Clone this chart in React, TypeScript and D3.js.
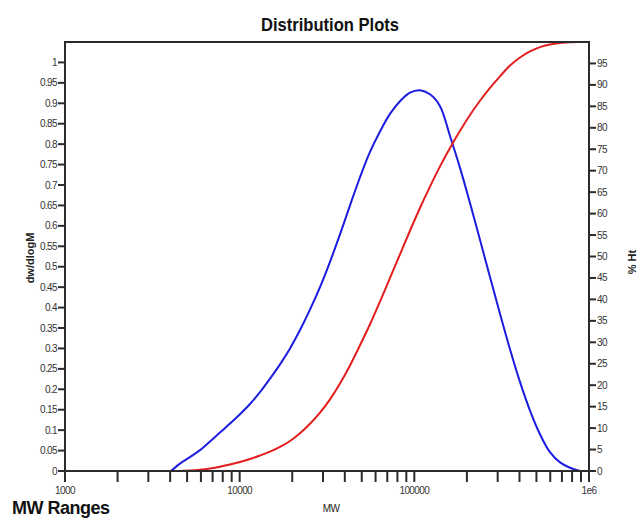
import React, { useEffect, useRef } from "react";
import * as d3 from "d3";

// Molecular weight grid (g/mol), shared by both traces
const mw = [4045, 4554, 5195, 5929, 6765, 7716, 8805, 10040, 11460, 13070, 14920, 17020, 19420, 22150, 25270, 28840, 32900, 37530, 42820, 48860, 55740, 63590, 72550, 82770, 94430, 107700, 122900, 140300, 160000, 182600, 208300, 237600, 271100, 309300, 352900, 402600, 459300, 524100, 597900, 682200, 778300, 888000, 1000000];

// Differential distribution dw/dlogM (null where the trace is not drawn)
const dwdlogM: (number | null)[] = [0, 0.018, 0.034, 0.051, 0.072, 0.094, 0.116, 0.139, 0.164, 0.193, 0.226, 0.261, 0.3, 0.345, 0.395, 0.45, 0.512, 0.579, 0.65, 0.719, 0.781, 0.831, 0.874, 0.905, 0.926, 0.932, 0.922, 0.893, 0.82, 0.742, 0.656, 0.566, 0.475, 0.385, 0.298, 0.218, 0.148, 0.09, 0.046, 0.021, 0.008, 0, null];

// Cumulative distribution, % height
const pctHt = [0, 0, 0.1, 0.3, 0.6, 1.0, 1.5, 2.1, 2.8, 3.6, 4.5, 5.6, 7.0, 8.8, 11.0, 13.6, 16.7, 20.4, 24.6, 29.3, 34.2, 39.5, 45.0, 50.5, 56.0, 61.3, 66.3, 71.0, 75.3, 79.3, 83.0, 86.3, 89.3, 92.0, 94.5, 96.4, 97.8, 98.8, 99.4, 99.75, 99.95, 100, 100];

const leftTicks = d3.range(0, 21).map((i) => i * 0.05);
const rightTicks = d3.range(0, 20).map((i) => i * 5);
const xMajor = [1000, 10000, 100000, 1000000];
const xMajorLabels = ["1000", "10000", "100000", "1e6"];

const W = 644;
const H = 519;
const M = { left: 65, right: 589, top: 42, bottom: 471 };

export default function App() {
  const ref = useRef<SVGSVGElement>(null);

  useEffect(() => {
    const svg = d3.select(ref.current);
    svg.selectAll("*").remove();

    const x = d3.scaleLog().domain([1000, 1000000]).range([M.left, M.right]);
    const yL = d3.scaleLinear().domain([0, 1.05]).range([M.bottom, M.top]);
    const yR = d3.scaleLinear().domain([0, 100]).range([M.bottom, M.top]);

    const font = "'Liberation Sans', Arial, sans-serif";
    const axisColor = "#2b2b2b";
    const textColor = "#333";

    // Title
    svg.append("text")
      .attr("x", 330).attr("y", 31)
      .attr("text-anchor", "middle")
      .attr("font-family", font).attr("font-weight", "bold")
      .attr("font-size", 19).attr("fill", "#111")
      .attr("textLength", 138).attr("lengthAdjust", "spacingAndGlyphs")
      .text("Distribution Plots");

    // Curves
    type P = [number, number | null];
    const blueData: P[] = mw.map((m, i) => [m, dwdlogM[i]]);
    const redData: P[] = mw.map((m, i) => [m, pctHt[i]]);

    svg.append("path")
      .attr("d", d3.line<P>()
        .defined((d) => d[1] !== null)
        .x((d) => x(d[0])).y((d) => yL(d[1] as number))
        .curve(d3.curveCatmullRom.alpha(0.5))(blueData))
      .attr("fill", "none").attr("stroke", "#1c1ce0").attr("stroke-width", 2);

    svg.append("path")
      .attr("d", d3.line<P>()
        .x((d) => x(d[0])).y((d) => yR(d[1] as number))
        .curve(d3.curveMonotoneX)(redData))
      .attr("fill", "none").attr("stroke", "#e41e1e").attr("stroke-width", 2);

    // Frame: top, left, right, bottom
    const g = svg.append("g").attr("stroke", axisColor).attr("stroke-width", 2);
    g.append("line").attr("x1", M.left).attr("x2", M.right).attr("y1", M.top).attr("y2", M.top);
    g.append("line").attr("x1", M.left).attr("x2", M.left).attr("y1", M.top - 1).attr("y2", M.bottom + 11);
    g.append("line").attr("x1", M.right).attr("x2", M.right).attr("y1", M.top - 1).attr("y2", M.bottom + 11);
    g.append("line").attr("x1", M.left).attr("x2", M.right).attr("y1", M.bottom).attr("y2", M.bottom);

    // X ticks at 1..9 of each decade
    const xTicks: number[] = [];
    for (let e = 3; e < 6; e++) for (let k = 1; k <= 9; k++) xTicks.push(k * Math.pow(10, e));
    xTicks.push(1000000);
    g.selectAll(".xt").data(xTicks).enter().append("line")
      .attr("x1", (d) => x(d)).attr("x2", (d) => x(d))
      .attr("y1", M.bottom).attr("y2", M.bottom + 11);

    svg.selectAll(".xl").data(xMajor).enter().append("text")
      .attr("x", (d) => x(d)).attr("y", 494)
      .attr("text-anchor", "middle")
      .attr("font-family", font).attr("font-size", 10).attr("fill", textColor)
      .attr("letter-spacing", -0.6)
      .text((_, i) => xMajorLabels[i]);

    // Left ticks
    g.selectAll(".lt").data(leftTicks).enter().append("line")
      .attr("x1", M.left - 7).attr("x2", M.left)
      .attr("y1", (d) => yL(d)).attr("y2", (d) => yL(d));
    svg.selectAll(".ll").data(leftTicks).enter().append("text")
      .attr("x", M.left - 8).attr("y", (d) => yL(d))
      .attr("dy", "0.35em").attr("text-anchor", "end")
      .attr("font-family", font).attr("font-size", 10).attr("fill", textColor)
      .attr("letter-spacing", -0.6)
      .text((d) => String(+d.toFixed(2)));

    // Right ticks
    g.selectAll(".rt").data(rightTicks).enter().append("line")
      .attr("x1", M.right).attr("x2", M.right + 7)
      .attr("y1", (d) => yR(d)).attr("y2", (d) => yR(d));
    svg.selectAll(".rl").data(rightTicks).enter().append("text")
      .attr("x", M.right + 8).attr("y", (d) => yR(d))
      .attr("dy", "0.35em").attr("text-anchor", "start")
      .attr("font-family", font).attr("font-size", 10).attr("fill", textColor)
      .attr("letter-spacing", -0.6)
      .text((d) => String(d));

    // Axis titles
    svg.append("text")
      .attr("transform", "translate(34,258) rotate(-90)")
      .attr("text-anchor", "middle")
      .attr("font-family", font).attr("font-weight", "bold").attr("font-size", 11).attr("fill", "#222")
      .text("dw/dlogM");
    svg.append("text")
      .attr("transform", "translate(636,262) rotate(-90)")
      .attr("text-anchor", "middle")
      .attr("font-family", font).attr("font-weight", "bold").attr("font-size", 11).attr("fill", "#222")
      .text("% Ht");
    svg.append("text")
      .attr("x", 331).attr("y", 512)
      .attr("text-anchor", "middle")
      .attr("font-family", font).attr("font-size", 10).attr("fill", "#222")
      .attr("letter-spacing", -0.6)
      .text("MW");
    svg.append("text")
      .attr("x", 12).attr("y", 514)
      .attr("font-family", font).attr("font-weight", "bold").attr("font-size", 18).attr("fill", "#111")
      .attr("letter-spacing", -0.5)
      .text("MW Ranges");
  }, []);

  return (
    <svg ref={ref} width={W} height={H} style={{ position: "absolute", left: 0, top: 0, background: "#fff" }} />
  );
}
